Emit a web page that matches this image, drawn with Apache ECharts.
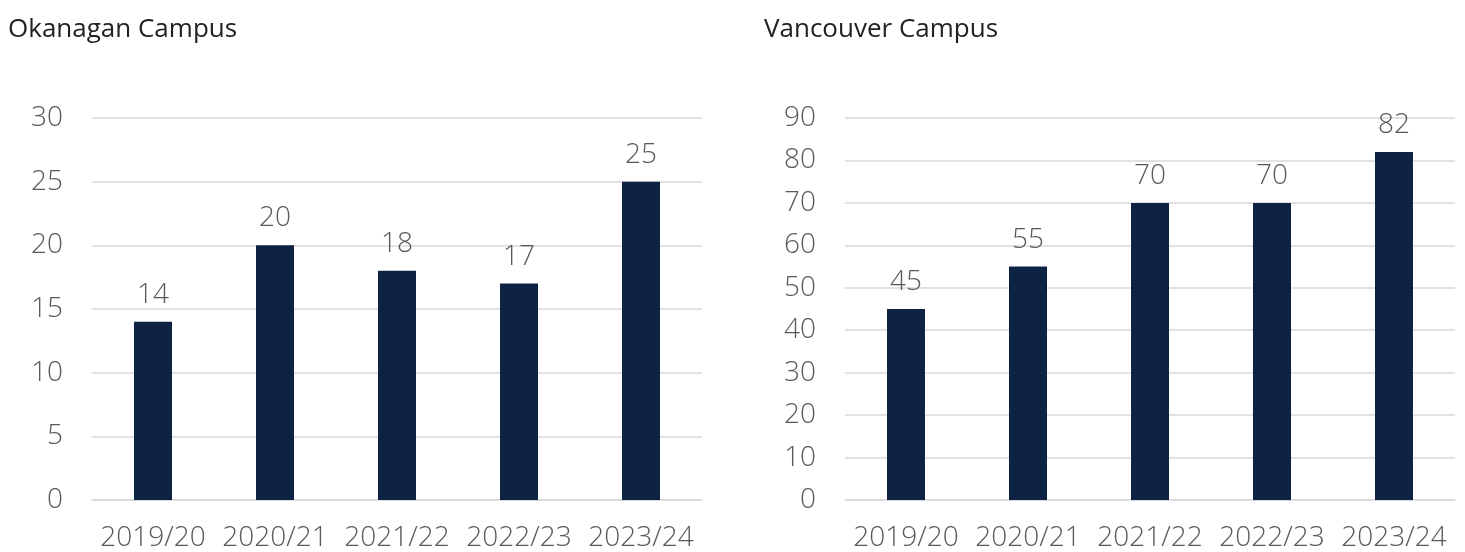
<!DOCTYPE html>
<html>
<head>
<meta charset="utf-8">
<script src="https://cdn.jsdelivr.net/npm/echarts@6/dist/echarts.min.js"></script>
<style>
  html, body { margin: 0; padding: 0; background: #fff; }
  #chart { width: 1465px; height: 552px; }
</style>
</head>
<body>
<div id="chart"></div>
<script>
var years = ['2019/20', '2020/21', '2021/22', '2022/23', '2023/24'];
var okanagan = [14, 20, 18, 17, 25];
var vancouver = [45, 55, 70, 70, 82];

var barColor = '#0e2344';
var gridColor = '#d9d9d9';
var labelColor = '#595959';
var fontName = '"Open Sans", sans-serif';

var myChart = echarts.init(document.getElementById('chart'));

function xAxisFor(idx) {
    return {
        type: 'category',
        gridIndex: idx,
        data: years,
        axisLine: { lineStyle: { color: gridColor, width: 1.5 } },
        axisTick: { show: false },
        axisLabel: { color: labelColor, fontSize: 28, fontWeight: 300, fontFamily: fontName, margin: 24, interval: 0 }
    };
}

function yAxisFor(idx, max, step) {
    return {
        type: 'value',
        gridIndex: idx,
        min: 0,
        max: max,
        interval: step,
        axisLine: { show: false },
        axisTick: { show: false },
        splitLine: { lineStyle: { color: gridColor, width: 1.5 } },
        axisLabel: { color: labelColor, fontSize: 28, fontWeight: 300, fontFamily: fontName, margin: 29 }
    };
}

function barSeries(idx, values) {
    return {
        type: 'bar',
        xAxisIndex: idx,
        yAxisIndex: idx,
        data: values,
        barWidth: 38,
        itemStyle: { color: barColor },
        label: {
            show: true,
            position: 'top',
            distance: 13,
            color: labelColor,
            fontSize: 28,
            fontWeight: 300,
            fontFamily: fontName
        }
    };
}

var option = {
    animation: false,
    backgroundColor: '#fff',
    title: [{
        text: 'Okanagan Campus',
        left: 3,
        top: 12,
        textStyle: { color: '#222', fontSize: 26, fontWeight: 'normal', fontFamily: fontName }
    }, {
        text: 'Vancouver Campus',
        left: 759,
        top: 12,
        textStyle: { color: '#222', fontSize: 26, fontWeight: 'normal', fontFamily: fontName }
    }],
    grid: [
        { left: 92, top: 118, width: 610, height: 383 },
        { left: 845, top: 118, width: 610, height: 383 }
    ],
    xAxis: [xAxisFor(0), xAxisFor(1)],
    yAxis: [yAxisFor(0, 30, 5), yAxisFor(1, 90, 10)],
    series: [barSeries(0, okanagan), barSeries(1, vancouver)]
};

myChart.setOption(option);
</script>
</body>
</html>
